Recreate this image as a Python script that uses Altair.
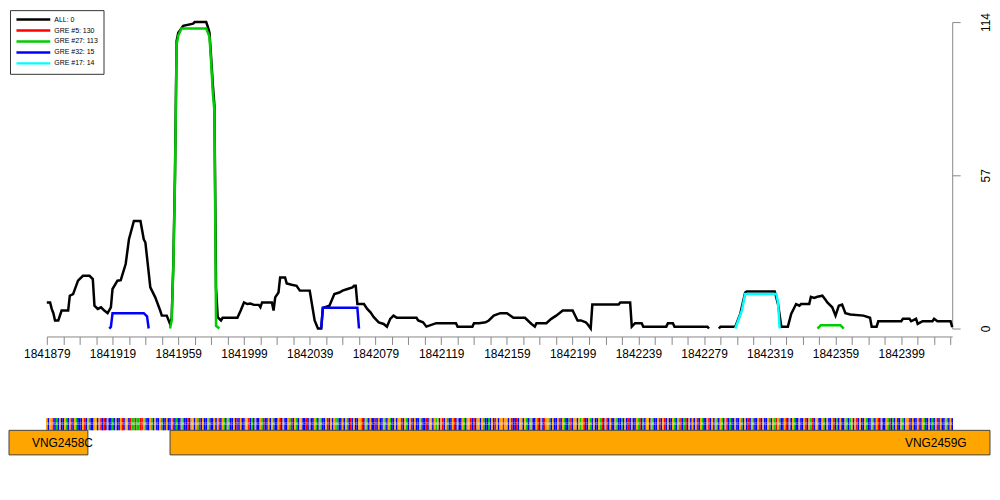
import altair as alt
import pandas as pd

START = 1841879
END = 1842430

LEGEND_LABELS = ["ALL: 0", "GRE #5: 130", "GRE #27: 113", "GRE #32: 15", "GRE #17: 14"]
LEGEND_COLORS = ["#000000", "#FF0000", "#00CD00", "#0000FF", "#00FFFF"]

# ALL coverage (offset from START, value), two pieces (gap around 1842282-1842287)
ALL_OFF_1 = [0, 2, 3, 4, 5, 7, 9, 13, 14, 16, 19, 22, 26, 28, 29, 31, 33, 35, 37, 39,
             40, 43, 45, 48, 50, 53, 57, 59, 60, 63, 66, 69, 70, 73, 75, 76, 77, 78, 79, 80,
             83, 89, 90, 97, 98, 99, 100, 101, 102, 103, 104, 106, 107, 116, 118, 120, 122, 124, 126, 129,
             130, 131, 137, 138, 139, 141, 142, 145, 146, 149, 152, 154, 160, 162, 163, 165, 167, 168, 172, 175,
             178, 180, 183, 186, 187, 188, 189, 193, 195, 197, 199, 202, 205, 207, 209, 211, 213, 225, 226, 229,
             231, 237, 249, 250, 259, 260, 263, 267, 269, 272, 276, 280, 284, 291, 295, 297, 298, 304, 307, 310,
             314, 320, 323, 325, 328, 329, 331, 332, 348, 349, 355, 356, 358, 362, 363, 377, 378, 381, 382, 402,
             403]
ALL_VAL_1 = [9.7, 9.7, 7.3, 5.7, 3, 3, 6.7, 6.7, 12.2, 12.8, 17.8, 19.6, 19.6, 18.4, 8.5, 7.3, 7.9, 6.7, 5.7, 7.9,
             14.7, 17.8, 18, 24, 33.2, 40, 40, 33.2, 32, 15.3, 11.6, 6.7, 4.8, 4.8, 1.7, 4, 24, 57, 107, 110,
             112.6, 113.4, 114, 114, 112.2, 110, 101, 91, 83, 15, 4.2, 3, 4, 4, 6.7, 9.7, 9.1, 9.3, 8.8, 8.8,
             7.9, 9.7, 9.7, 6.7, 11.6, 13.4, 19, 19, 16.8, 16.3, 15.9, 14.1, 14.1, 6.7, 3, 0, 0, 7.7, 8.5, 12.8,
             13.4, 14.1, 14.7, 15.3, 15.9, 15.9, 9.1, 9.1, 7.3, 6, 4.2, 2.3, 1.7, 0.7, 3.6, 4.8, 4, 4, 3, 2.3,
             0.7, 2, 2, 0.7, 0.7, 2, 2, 2.3, 3, 4.8, 5.7, 5.7, 4, 4, 1.7, 0.7, 2, 2, 3.6, 4.8,
             6.7, 6.7, 3, 3, 2.3, 1.7, 0, 8.9, 8.9, 9.7, 9.7, 0.7, 2, 2, 0.7, 0.7, 2, 2, 0.7, 0.7,
             0]
ALL_OFF_2 = [409, 410, 419, 422, 425, 426, 443, 445, 447, 451, 453, 456, 458, 459, 464, 465, 467, 469, 472, 474,
             475, 478, 480, 482, 484, 486, 489, 497, 501, 502, 505, 506, 520, 521, 525, 526, 529, 530, 533, 539,
             540, 542, 550, 551]
ALL_VAL_2 = [0, 0.7, 0.7, 5.4, 13.4, 13.8, 13.8, 9.1, 0.7, 0.7, 5.4, 9.1, 8.5, 9.1, 9.1, 11.8, 11.4, 11.8, 12.2, 10.6,
             9.7, 7.9, 4.8, 8.5, 8.9, 5.7, 5.2, 4.8, 4, 0.7, 0.7, 2.7, 2.7, 3.6, 3.6, 2.7, 3.6, 1.7, 2.7, 2.7,
             3.6, 2.7, 2.7, 0.5]

# GRE #27 (green), two pieces
G27_OFF_1 = [75, 76, 77, 78, 79, 80, 82, 97, 99, 100, 101, 102, 103, 105]
G27_VAL_1 = [0, 3, 22.7, 55, 105.5, 109, 111.6, 111.6, 108.5, 99, 88, 80.7, 1, 0]
G27_OFF_2 = [469, 471, 483, 485]
G27_VAL_2 = [0, 1.2, 1.2, 0]

# GRE #32 (blue), two pieces
G32_OFF_1 = [38, 39, 40, 59, 61, 62]
G32_VAL_1 = [0, 0.6, 5.7, 5.7, 4.5, 0]
G32_OFF_2 = [167, 168, 189, 190]
G32_VAL_2 = [0, 7.7, 7.7, 0]

# GRE #17 (cyan)
G17_OFF_1 = [419, 423, 425, 444, 445, 446]
G17_VAL_1 = [0, 6.7, 12.8, 12.8, 9.7, 0]

X_TICKS = list(range(START, 1842430, 10))
Y_TICKS = [0, 57, 114]

SEQUENCE = ("GCGGTCACGC CGACGTCGAC CCGTCGACCG GCGTCTCGCC ACGCCGTCGG CTAATAATTG ACCGACGCCG "
            "ACCGCCGTCA CCGACCTCGG CGATCGCCGA CCGCGTCGAC GACCGCTCGC CGGTCACGCC GATCCGCGAC "
            "CGTCGCCGAT CGACGGCCTC GCCGACGACC GTCGCGAACC GCGACTCGCC GGTCGACGCC TCGCCGACGA "
            "CCGCGGTCGA CGTCGCCGAC CTCGGCGAGC GTCGACCGTC GCCGACGGTC TCGGCGACCA CGCTGCGGTG "
            "GCGTCCTCGG CGACAGCCGT CGCTGGACGC CGTCGACCAT CGGCGAGTCC GACGCCGATC GTCGCCGACC "
            "ACGCTCGCCG ATCACGGCGA CCGTCGTCGC CGACGATCAT CGCGCGTCGA CCGTCGCGAC GACGTCACCG "
            "CCGACGCTCG ACCGTCGCCG ACGATGACCG TCGCGACCGC CGTCGATCGG CCGACGCCGT CACGCCGACA "
            "GCGTCGCCGA CCGACGTCGC CGATCACGCC GACGGTCGCC GTCGACCGCA CGTCGCCGAC GC").replace(" ", "")
BASE_COLORS = {"A": "#00CC00", "C": "#0000FF", "G": "#FFA500", "T": "#FF0000"}

GENE_NAMES = ["VNG2458C", "VNG2459G"]
GENE_START = [1841856, 1841954]
GENE_END = [1841904, 1842453]
GENE_LABEL_POS = [1841888.5, 1842420]

FONT = "Liberation Sans"

rows = []
def add(series, seg, offs, vals):
    for o, v in zip(offs, vals):
        rows.append({"series": series, "seg": seg, "pos": START + o, "val": v})

add("ALL: 0", "a1", ALL_OFF_1, ALL_VAL_1)
add("ALL: 0", "a2", ALL_OFF_2, ALL_VAL_2)
add("GRE #27: 113", "g1", G27_OFF_1, G27_VAL_1)
add("GRE #27: 113", "g2", G27_OFF_2, G27_VAL_2)
add("GRE #32: 15", "b1", G32_OFF_1, G32_VAL_1)
add("GRE #32: 15", "b2", G32_OFF_2, G32_VAL_2)
add("GRE #17: 14", "c1", G17_OFF_1, G17_VAL_1)
df = pd.DataFrame(rows)

x_enc = alt.X("pos:Q",
              scale=alt.Scale(domain=[START, END], nice=False, zero=False),
              axis=alt.Axis(values=X_TICKS, format="d",
                            labelExpr="(datum.value - 1841879) % 40 == 0 ? datum.label : ''",
                            labelOverlap=False, offset=8, tickSize=8, labelPadding=4,
                            domainColor="#888888", tickColor="#888888", labelColor="#000000",
                            labelFontSize=12, labelFont=FONT, grid=False, labelFlush=False),
              title=None)
y_enc = alt.Y("val:Q",
              scale=alt.Scale(domain=[0, 114], nice=False),
              axis=alt.Axis(orient="right", values=Y_TICKS, labelAngle=270, labelAlign="center",
                            labelBaseline="top", tickSize=8, labelPadding=20, offset=0,
                            domainColor="#888888", tickColor="#888888", labelColor="#000000",
                            labelFontSize=12, labelFont=FONT, grid=False),
              title=None)
color_enc = alt.Color("series:N",
                      scale=alt.Scale(domain=LEGEND_LABELS, range=LEGEND_COLORS),
                      legend=alt.Legend(orient="none", legendX=-37, legendY=-12, title=None,
                                        symbolType="M-1,0H10.33", symbolSize=36, symbolStrokeWidth=2.5,
                                        labelFontSize=7, labelFont=FONT, labelColor="#000000",
                                        strokeColor="#333333", fillColor="#FFFFFF",
                                        padding=5, rowPadding=0, labelOffset=30.5))

base = alt.Chart(df)
black = base.transform_filter(alt.datum.series == "ALL: 0").mark_line(strokeWidth=2.5).encode(
    x=x_enc, y=y_enc, color=color_enc, detail="seg:N")
others = base.transform_filter(alt.datum.series != "ALL: 0").mark_line(strokeWidth=2.5).encode(
    x=x_enc, y=y_enc, color=color_enc, detail="seg:N")
top = alt.layer(black, others).properties(width=910, height=308)

seq_df = pd.DataFrame({
    "pos": [START + i for i in range(len(SEQUENCE))],
    "base": list(SEQUENCE),
})
seq_df["x1"] = seq_df["pos"] - 0.5
seq_df["x2"] = seq_df["pos"] + 0.5
seq_df["col"] = seq_df["base"].map(BASE_COLORS)
seq_df["y1"] = 2
seq_df["y2"] = 3
seq_df["ym"] = 2.5

gene_df = pd.DataFrame({"name": GENE_NAMES, "start": GENE_START, "end": GENE_END,
                        "lab": GENE_LABEL_POS})
gene_df["y1"] = 0
gene_df["y2"] = 2
gene_df["ym"] = 1

bx_scale = alt.Scale(domain=[START, END], nice=False, zero=False)
by_scale = alt.Scale(domain=[0, 3], nice=False)

strip = alt.Chart(seq_df).mark_rect(strokeWidth=0).encode(
    x=alt.X("x1:Q", scale=bx_scale, axis=None), x2="x2:Q",
    y=alt.Y("y1:Q", scale=by_scale, axis=None), y2="y2:Q",
    color=alt.Color("col:N", scale=None))
strip_txt = alt.Chart(seq_df).mark_text(fontSize=4, color="#FFFFFF", font=FONT, opacity=0.55).encode(
    x=alt.X("pos:Q", scale=bx_scale, axis=None),
    y=alt.Y("ym:Q", scale=by_scale, axis=None),
    text="base:N")
genes = alt.Chart(gene_df).mark_rect(fill="#FFA500", stroke="#444444", strokeWidth=1).encode(
    x=alt.X("start:Q", scale=bx_scale, axis=None), x2="end:Q",
    y=alt.Y("y1:Q", scale=by_scale, axis=None), y2="y2:Q")
gene_txt = alt.Chart(gene_df).mark_text(fontSize=12, color="#000000", font=FONT).encode(
    x=alt.X("lab:Q", scale=bx_scale, axis=None),
    y=alt.Y("ym:Q", scale=by_scale, axis=None),
    text="name:N")
bottom = alt.layer(strip, strip_txt, genes, gene_txt).properties(width=910, height=37)

chart = alt.VConcatChart(vconcat=[top, bottom], spacing=90, bounds="flush").properties(
    padding={"left": 0, "top": 0, "right": 0, "bottom": 5},
    background="#FFFFFF",
).configure_view(stroke="transparent")

chart.save("out.html", embed_options={"renderer": "svg", "actions": False})
